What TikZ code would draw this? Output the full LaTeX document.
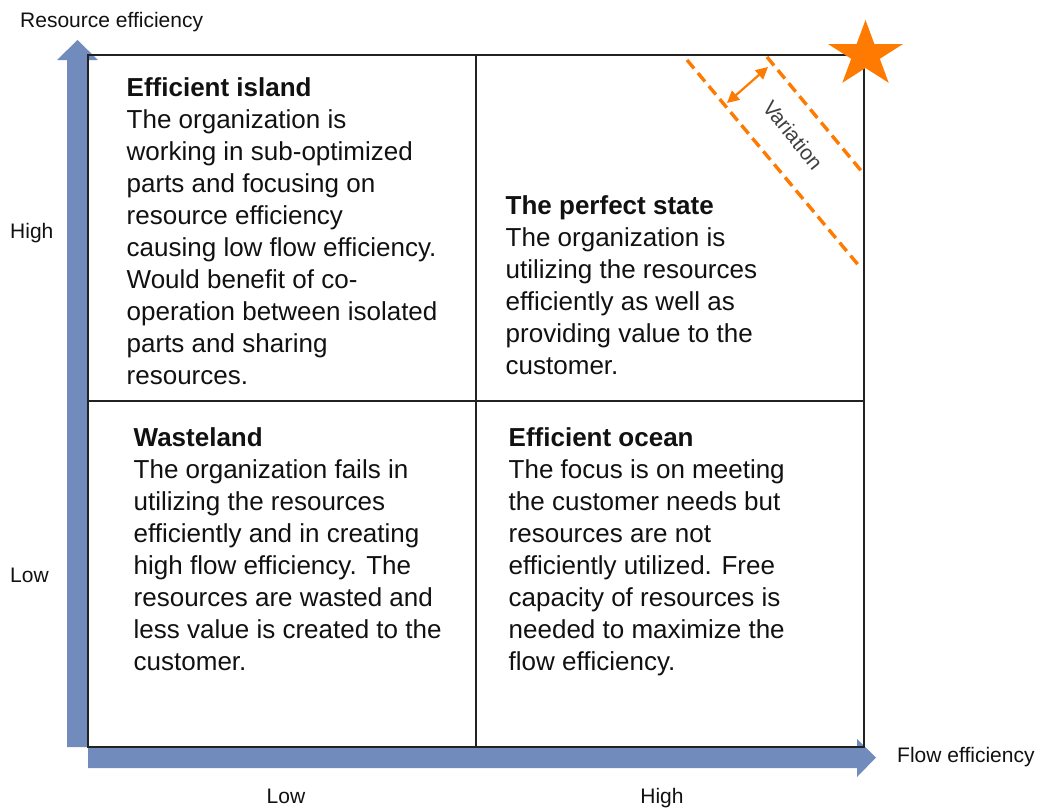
\documentclass[tikz,border=0pt]{standalone}
\usepackage{fontspec}
\setmainfont{Liberation Sans}
\usetikzlibrary{arrows.meta}
\definecolor{axisblue}{RGB}{114,139,189}
\definecolor{varorange}{RGB}{255,122,0}
\definecolor{gridline}{RGB}{34,34,34}
\definecolor{textdark}{RGB}{17,17,17}
\tikzset{
  quadtext/.style={anchor=north west, inner sep=0pt, align=left, text=textdark,
    font=\fontsize{26}{32}\selectfont},
  axislabel/.style={inner sep=0pt, text=textdark, font=\fontsize{21}{25}\selectfont},
  gridframe/.style={draw=gridline, line width=1.6pt},
  axisarrow/.style={fill=axisblue, draw=none},
  varline/.style={draw=varorange, line width=3.4pt, dash pattern=on 11pt off 6pt},
  vararrow/.style={draw=varorange, line width=2.2pt, {Triangle[length=12pt,width=12pt]}-{Triangle[length=12pt,width=12pt]}},
}
\begin{document}
\begin{tikzpicture}[x=1pt,y=-1pt]
\useasboundingbox (0,0) rectangle (1051,807);
% axes
\fill[axisblue] (67,747) -- (67,60) -- (57,60) -- (77.5,40) -- (98,60) -- (88,60) -- (88,747) -- cycle;
\fill[axisblue] (88,747) -- (857,747) -- (857,739) -- (876,757.5) -- (857,777) -- (857,768) -- (88,768) -- cycle;
% grid
\draw[gridframe] (88,55) rectangle (864,747);
\draw[gridframe] (476,55) -- (476,747);
\draw[gridframe] (88,401) -- (864,401);
% variation lines
\coordinate (l1a) at (687,60);
\coordinate (l1b) at (860,267);
\coordinate (l2a) at (767,57);
\coordinate (l2b) at (863,173);
\coordinate (va) at (727,103);
\coordinate (vb) at (768,67);
\draw[varline] (l1a) -- (l1b);
\draw[varline] (l2a) -- (l2b);
\draw[vararrow] (va) -- (vb);
\node[axislabel, rotate=-51, text=black!75, font=\fontsize{21}{24}\selectfont] (var) at (793,135) {Variation};
% star
\fill[varorange] (865.5,20) -- (874.4,44) -- (903,44) -- (879.8,58.8) -- (888.7,82.8) -- (865.5,68) -- (842.3,82.8) -- (851.2,58.8) -- (828,44) -- (856.6,44) -- cycle;
% quadrant texts
\node[quadtext] (ei) at (126.5,77) {\textbf{Efficient island}\\The organization is\\working in sub-optimized\\parts and focusing on\\resource efficiency\\causing low flow efficiency.\\Would benefit of co-\\operation between isolated\\parts and sharing\\resources.};
\node[quadtext] (ps) at (505.5,195) {\textbf{The perfect state}\\The organization is\\utilizing the resources\\efficiently as well as\\providing value to the\\customer.};
\node[quadtext] (wl) at (133.5,427) {\textbf{Wasteland}\\The organization fails in\\utilizing the resources\\efficiently and in creating\\high flow efficiency. The\\resources are wasted and\\less value is created to the\\customer.};
\node[quadtext] (eo) at (508.5,427) {\textbf{Efficient ocean}\\The focus is on meeting\\the customer needs but\\resources are not\\efficiently utilized. Free\\capacity of resources is\\needed to maximize the\\flow efficiency.};
% axis labels
\node[axislabel, anchor=base west] (re) at (20,27.5) {Resource efficiency};
\node[axislabel, anchor=base west] (fe) at (897,762.5) {Flow efficiency};
\node[axislabel, anchor=base west] (yh) at (10,238) {High};
\node[axislabel, anchor=base west] (yl) at (10,582) {Low};
\node[axislabel, anchor=base] (xl) at (286,803) {Low};
\node[axislabel, anchor=base] (xh) at (662,803) {High};
\end{tikzpicture}
\end{document}
